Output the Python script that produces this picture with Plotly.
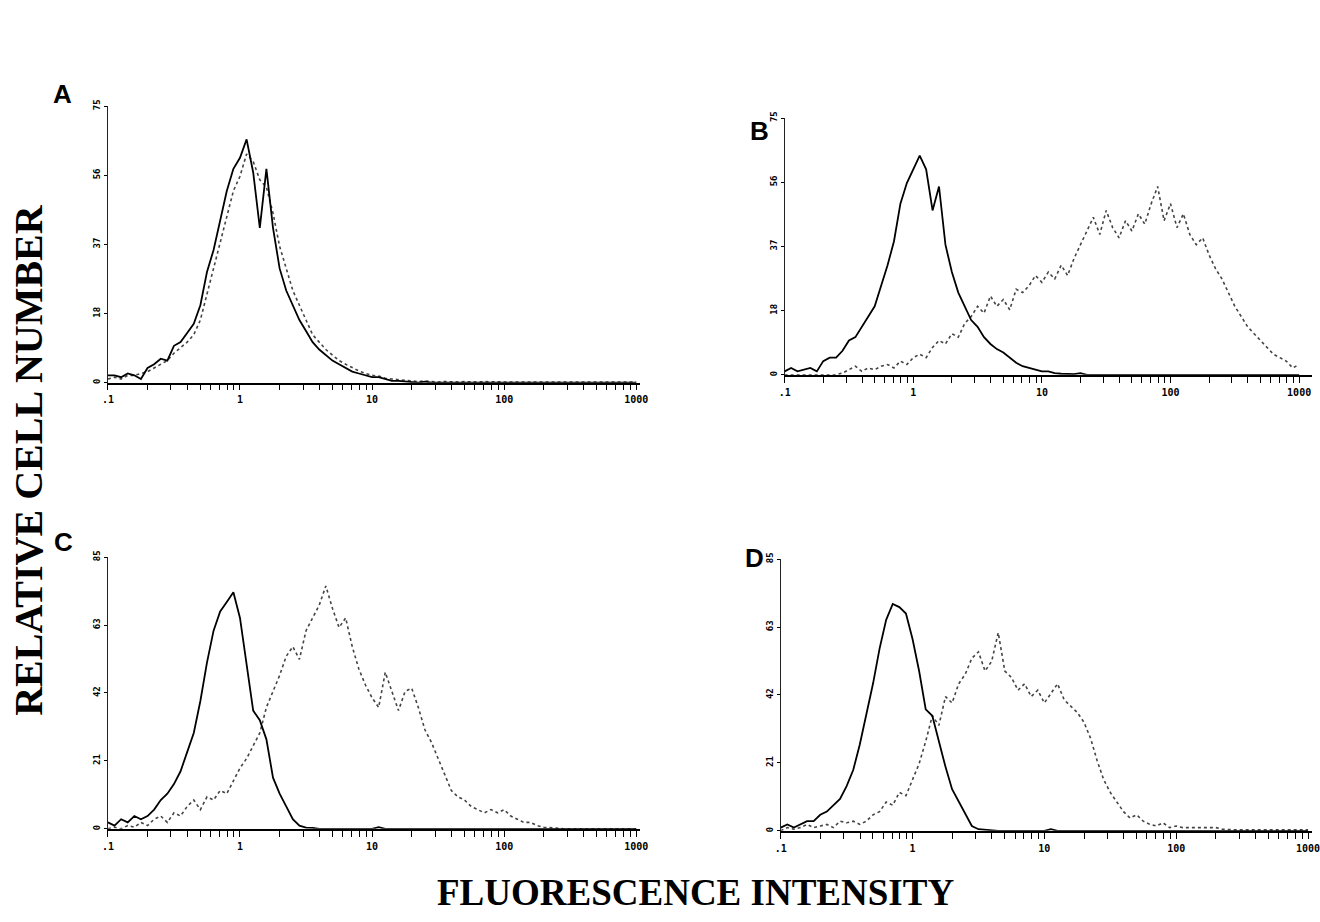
import plotly.graph_objects as go

# ---------------- data (channel histograms, 20 channels per decade, starting at 0.1) -------------
BINS_PER_DECADE = 20
LOG_START = -1

A_SOLID = [2, 2, 1.5, 2.5, 2, 1, 4, 5, 6.5, 6,
           10, 11, 13.5, 16, 21, 30, 36, 44, 52, 58,
           61, 66, 57, 42, 58, 42, 31, 25, 21, 17,
           14, 11, 9, 7.5, 6, 5, 4, 3, 2.5, 2,
           1.5, 1.5, 1, 0.5, 0.5, 0.3, 0.2, 0, 0.3, 0,
           0, 0, 0, 0, 0, 0, 0, 0, 0, 0,
           0, 0, 0, 0, 0, 0, 0, 0, 0, 0,
           0, 0, 0, 0, 0, 0, 0, 0, 0, 0, 0]
A_DOTTED = [1, 1.5, 1, 2, 2, 2.5, 3, 4, 5, 6,
            8, 9.5, 11, 13, 17, 24, 31, 38, 45, 52,
            56, 62, 60, 55, 53, 46, 37, 31, 25, 21,
            17, 13, 11, 9, 7.5, 6, 5, 4, 3.2, 2.5,
            2, 1.8, 1.2, 1, 0.8, 0.6, 0.5, 0.3, 0.5, 0.3,
            0.2, 0.3, 0.2, 0.2, 0.3, 0.2, 0.2, 0.3, 0.2, 0.2,
            0.2, 0.2, 0.2, 0.2, 0.2, 0.2, 0.2, 0.2, 0.2, 0.2,
            0.2, 0.2, 0.2, 0.2, 0.2, 0.2, 0.2, 0.2, 0.2, 0.2, 0.2]

B_SOLID = [1, 2, 1, 1.5, 2, 1, 4, 5, 5, 7,
           10, 11, 14, 17, 20, 26, 32, 39, 50, 56,
           60, 64, 60, 48, 55, 38, 30, 24, 20, 16,
           14, 11, 9, 7.5, 6.5, 5, 3.5, 2.5, 2, 1.5,
           1, 1, 0.5, 0.3, 0.3, 0.2, 0.5, 0, 0, 0,
           0, 0, 0, 0, 0, 0, 0, 0, 0, 0,
           0, 0, 0, 0, 0, 0, 0, 0, 0, 0,
           0, 0, 0, 0, 0, 0, 0, 0, 0, 0, 0]
B_DOTTED = [0, 0, 0, 0, 0, 0, 0, 0, 0, 0.5,
            1.5, 2.5, 1, 2, 1.5, 2.5, 3, 2, 4, 3,
            5, 6, 5, 8, 10, 9, 12, 11, 15, 17,
            20, 18, 23, 20, 22, 19, 25, 24, 26, 29,
            27, 30, 28, 32, 29, 34, 38, 42, 46, 41,
            48, 43, 40, 45, 42, 47, 44, 50, 55, 45,
            50, 43, 47, 41, 38, 40, 35, 31, 28, 24,
            20, 17, 14, 12, 10, 8, 6, 5, 4, 2, 3]

C_SOLID = [2, 1, 3, 2, 4, 3, 4, 6, 9, 11,
           14, 18, 24, 30, 40, 52, 62, 68, 71, 74,
           66, 52, 37, 34, 28, 16, 11, 7, 3, 1,
           0.4, 0.3, 0, 0, 0, 0, 0, 0, 0, 0,
           0, 0.5, 0, 0, 0, 0, 0, 0, 0, 0,
           0, 0, 0, 0, 0, 0, 0, 0, 0, 0,
           0, 0, 0, 0, 0, 0, 0, 0, 0, 0,
           0, 0, 0, 0, 0, 0, 0, 0, 0, 0, 0]
C_DOTTED = [0, 0.5, 0, 1, 0.5, 2, 1, 3, 4, 2,
            5, 4, 7, 9, 6, 10, 9, 12, 11, 15,
            19, 22, 26, 30, 38, 43, 48, 54, 57, 53,
            62, 66, 70, 76, 69, 63, 66, 57, 50, 45,
            41, 38, 49, 43, 37, 43, 44, 38, 31, 27,
            22, 17, 12, 10, 9, 7, 6, 5, 6, 5,
            6, 4, 3, 2, 2, 1, 0.5, 0.3, 0, 0,
            0, 0, 0, 0, 0, 0, 0, 0, 0, 0, 0]

D_SOLID = [1, 2, 1, 2, 3, 3, 5, 6, 8, 10,
           14, 19, 27, 36, 46, 57, 66, 71, 70, 68,
           60, 50, 38, 36, 28, 20, 13, 9, 5, 1.5,
           0.5, 0.3, 0, 0, 0, 0, 0, 0, 0, 0,
           0, 0.5, 0, 0, 0, 0, 0, 0, 0, 0,
           0, 0, 0, 0, 0, 0, 0, 0, 0, 0,
           0, 0, 0, 0, 0, 0, 0, 0, 0, 0,
           0, 0, 0, 0, 0, 0, 0, 0, 0, 0, 0]
D_DOTTED = [0, 1, 0.5, 1, 2, 1, 1.5, 2, 1, 3,
            2.5, 3, 2, 3, 5, 6, 9, 8, 12, 11,
            16, 21, 28, 36, 33, 42, 40, 46, 49, 54,
            56, 50, 53, 62, 50, 48, 44, 46, 42, 44,
            40, 43, 46, 41, 39, 37, 34, 29, 22, 16,
            12, 9, 6, 4, 5, 3, 2, 1.5, 2.5, 1,
            1.5, 1, 1, 0.8, 1, 0.8, 1, 0.5, 0.3, 0.3,
            0.3, 0.3, 0.3, 0.3, 0.3, 0.3, 0.3, 0.3, 0.3, 0.3, 0.3]

X_TICK_LABELS = [".1", "1", "10", "100", "1000"]
Y_TICK_LABELS_AB = ["0", "18", "37", "56", "75"]
Y_MAX_AB = 75
Y_TICK_LABELS_CD = ["0", "21", "42", "63", "85"]
Y_MAX_CD = 85
PANEL_LETTERS = ["A", "B", "C", "D"]

# ---------------- figure -------------
W, H = 1320, 922
channels = list(range(len(A_SOLID)))
x_vals = [10 ** (LOG_START + c / BINS_PER_DECADE) for c in channels]

panels = [
    ("x", "y", A_SOLID, A_DOTTED),
    ("x2", "y2", B_SOLID, B_DOTTED),
    ("x3", "y3", C_SOLID, C_DOTTED),
    ("x4", "y4", D_SOLID, D_DOTTED),
]

fig = go.Figure()
for xa, ya, solid, dotted in panels:
    fig.add_trace(go.Scatter(x=x_vals, y=dotted, xaxis=xa, yaxis=ya, mode="lines",
                             line=dict(color="#444444", width=1.6, dash="dot"),
                             showlegend=False, hoverinfo="skip"))
    fig.add_trace(go.Scatter(x=x_vals, y=solid, xaxis=xa, yaxis=ya, mode="lines",
                             line=dict(color="black", width=1.8),
                             showlegend=False, hoverinfo="skip"))

# tick positions on log axis (decades + minor 2..9)
x_tickvals, x_ticktext = [], []
for d in range(5):
    base = 10 ** (LOG_START + d)
    x_tickvals.append(base)
    x_ticktext.append(X_TICK_LABELS[d])
    if d < 4:
        for m in range(2, 10):
            x_tickvals.append(base * m)
            x_ticktext.append("")

xtickfont = dict(family="DejaVu Sans Mono", size=10, color="black", weight="bold")
ytickfont = dict(family="DejaVu Sans Mono", size=9, color="black", weight="bold")

def px_dom_x(a, b):
    return [a / W, min(b / W, 1.0)]

def px_dom_y(top, base):
    return [1 - base / H, 1 - top / H]

domains = {
    "": (px_dom_x(103, 641), px_dom_y(100, 379), Y_TICK_LABELS_AB, Y_MAX_AB, 3.03),
    "2": (px_dom_x(787, 1320), px_dom_y(112, 371), Y_TICK_LABELS_AB, Y_MAX_AB, 3.1),
    "3": (px_dom_x(103, 641), px_dom_y(555, 829), Y_TICK_LABELS_CD, Y_MAX_CD, 3.03),
    "4": (px_dom_x(783, 1320), px_dom_y(557, 831), Y_TICK_LABELS_CD, Y_MAX_CD, 3.03),
}

layout_axes = {}
for suf, (dx, dy, ylabels, ymax, xmax) in domains.items():
    n = len(ylabels) - 1
    layout_axes["xaxis" + suf] = dict(
        domain=dx, type="log", range=[LOG_START, xmax], anchor="y" + suf,
        showline=True, linecolor="black", linewidth=1.5,
        ticks="outside", ticklen=6, tickwidth=1.2, tickcolor="black",
        tickmode="array", tickvals=x_tickvals, ticktext=x_ticktext,
        showgrid=False, zeroline=False, tickfont=xtickfont, ticklabelstandoff=1,
        ticklabeloverflow="allow",
    )
    layout_axes["yaxis" + suf] = dict(
        domain=dy, range=[0, ymax], anchor="x" + suf,
        showline=True, linecolor="#222", linewidth=1.2,
        ticks="outside", ticklen=3, tickwidth=1, tickcolor="black",
        tickmode="array", tickvals=[ymax * i / n for i in range(n + 1)], ticktext=ylabels,
        tickangle=-90, showgrid=False, zeroline=False, tickfont=ytickfont,
    )

fig.update_layout(
    width=W, height=H, margin=dict(l=0, r=0, t=0, b=0),
    paper_bgcolor="white", plot_bgcolor="rgba(0,0,0,0)",
    **layout_axes,
)

letter_pos = [(57, 88), (762, 125), (58, 540), (757, 556)]
for letter, (lx, ly) in zip(PANEL_LETTERS, letter_pos):
    fig.add_annotation(x=lx / W, y=1 - ly / H, xref="paper", yref="paper",
                       text=letter, showarrow=False, xanchor="center", yanchor="middle",
                       font=dict(family="Liberation Sans", size=26, color="black", weight="bold"))

fig.add_annotation(x=22 / W, y=1 - 457 / H, xref="paper", yref="paper",
                   text="RELATIVE CELL NUMBER", showarrow=False, textangle=-90,
                   xanchor="center", yanchor="middle",
                   font=dict(family="Liberation Serif", size=40, color="black", weight="bold"))
fig.add_annotation(x=697 / W, y=1 - 893 / H, xref="paper", yref="paper",
                   text="FLUORESCENCE INTENSITY", showarrow=False,
                   xanchor="center", yanchor="middle",
                   font=dict(family="Liberation Serif", size=37, color="black", weight="bold"))

fig.write_html("out.html", config={"displayModeBar": False},
               post_script="document.body.style.margin='0px';document.body.style.overflow='hidden';")
